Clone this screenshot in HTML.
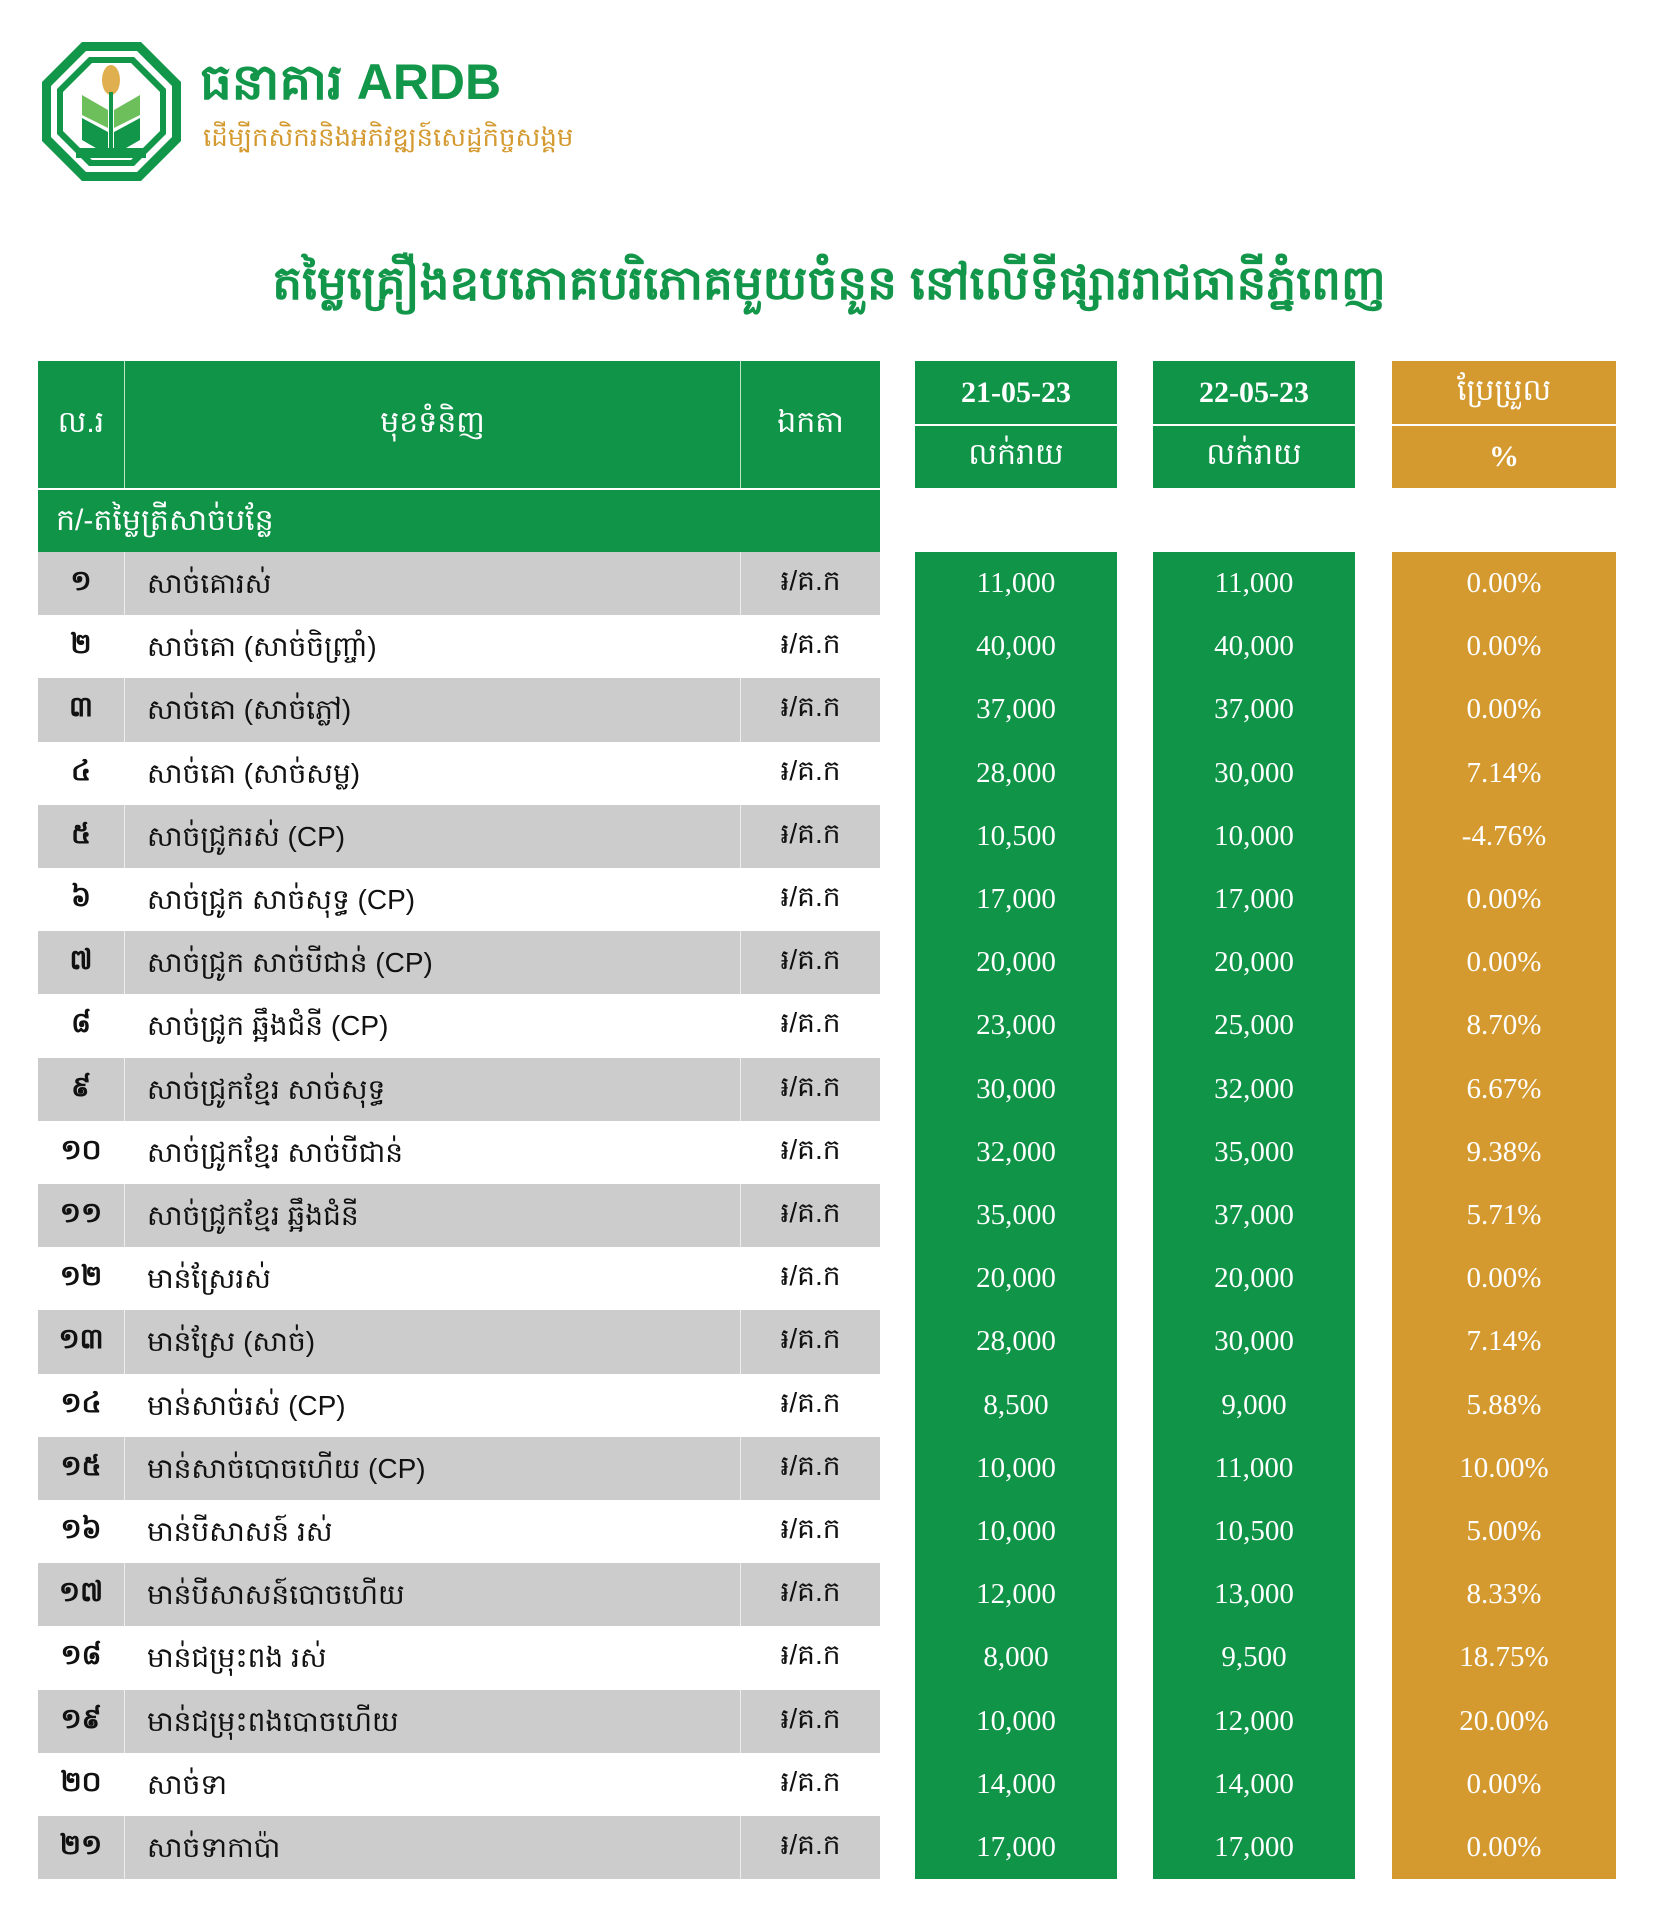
<!DOCTYPE html>
<html><head><meta charset="utf-8">
<style>
*{margin:0;padding:0;box-sizing:border-box}
body{width:1654px;height:1931px;background:#fff;position:relative;overflow:hidden;font-family:"Liberation Serif",serif}
.a{position:absolute}
.g{background:#0f9448}
.o{background:#d49a30}
.c{display:flex;align-items:center;justify-content:center}
.w{color:#fff}
.k{font-family:"Liberation Sans","Noto Sans CJK SC",sans-serif}
.v{font-size:29px;color:#fff}
</style></head><body>
<svg class="a" style="left:40px;top:40px" width="143" height="143" viewBox="0 0 143 143">
<polygon points="42,2 101,2 141,42 141,101 101,141 42,141 2,101 2,42" fill="#12964a"/>
<polygon points="46,11 97,11 132,46 132,97 97,132 46,132 11,97 11,46" fill="#fff"/>
<polygon points="49,17 94,17 126,49 126,94 94,126 49,126 17,94 17,49" fill="#12964a"/>
<polygon points="52,23 91,23 120,52 120,91 91,120 52,120 23,91 23,52" fill="#fff"/>
<ellipse cx="71" cy="40" rx="9" ry="15" fill="#e0b050"/>
<rect x="69" y="52" width="4" height="56" fill="#12964a"/>
<polygon points="42,55 68,70 68,88 42,75" fill="#6cbf5a"/>
<polygon points="100,55 74,70 74,88 100,75" fill="#6cbf5a"/>
<polygon points="42,78 68,92 68,115 42,100" fill="#12964a"/>
<polygon points="100,78 74,92 74,115 100,100" fill="#12964a"/>
<rect x="36" y="108" width="70" height="10" fill="#12964a"/>
</svg>
<div class="a k" style="left:200px;top:52px;font-size:50px;font-weight:bold;color:#12964a;line-height:60px">ធនាគារ ARDB</div>
<div class="a k" style="left:203px;top:118px;font-size:26px;color:#d49a30;line-height:38px">ដើម្បីកសិករនិងអភិវឌ្ឍន៍សេដ្ឋកិច្ចសង្គម</div>
<div class="a k" style="left:268px;top:250px;width:1122px;text-align:center;font-size:47px;font-weight:bold;color:#12964a;line-height:65px">តម្លៃគ្រឿងឧបភោគបរិភោគមួយចំនួន នៅលើទីផ្សាររាជធានីភ្នំពេញ</div>

<div class="a g" style="left:38px;top:361px;width:842px;height:127px"></div>
<div class="a" style="left:124px;top:361px;width:1px;height:127px;background:#bfe3c9"></div>
<div class="a" style="left:740px;top:361px;width:1px;height:127px;background:#bfe3c9"></div>
<div class="a c w k" style="left:38px;top:361px;width:86px;height:127px;font-size:30px">ល.រ</div>
<div class="a c w k" style="left:125px;top:361px;width:615px;height:127px;font-size:30px">មុខទំនិញ</div>
<div class="a c w k" style="left:741px;top:361px;width:139px;height:127px;font-size:30px">ឯកតា</div>
<div class="a g c w" style="left:915px;top:361px;width:202px;height:63px;font-size:30px;font-weight:bold">21-05-23</div>
<div class="a g c w k" style="left:915px;top:426px;width:202px;height:62px;font-size:30px">លក់រាយ</div>
<div class="a g c w" style="left:1153px;top:361px;width:202px;height:63px;font-size:30px;font-weight:bold">22-05-23</div>
<div class="a g c w k" style="left:1153px;top:426px;width:202px;height:62px;font-size:30px">លក់រាយ</div>
<div class="a o c w k" style="left:1392px;top:361px;width:224px;height:63px;font-size:30px">ប្រែប្រួល</div>
<div class="a o c w" style="left:1392px;top:426px;width:224px;height:62px;font-size:30px;font-weight:bold">%</div>
<div class="a g w k" style="left:38px;top:490px;width:842px;height:62px;font-size:30px;line-height:62px;padding-left:18px">ក/-តម្លៃត្រីសាច់បន្លែ</div>
<div class="a g" style="left:915px;top:552px;width:202px;height:1327px"></div>
<div class="a g" style="left:1153px;top:552px;width:202px;height:1327px"></div>
<div class="a o" style="left:1392px;top:552px;width:224px;height:1327px"></div>
<div id="rows"></div>
<script>
var d=[["១","សាច់គោរស់","11,000","11,000","0.00%"],["២","សាច់គោ (សាច់ចិញ្ច្រាំ)","40,000","40,000","0.00%"],["៣","សាច់គោ (សាច់ភ្លៅ)","37,000","37,000","0.00%"],["៤","សាច់គោ (សាច់សម្ល)","28,000","30,000","7.14%"],["៥","សាច់ជ្រូករស់ (CP)","10,500","10,000","-4.76%"],["៦","សាច់ជ្រូក សាច់សុទ្ធ (CP)","17,000","17,000","0.00%"],["៧","សាច់ជ្រូក សាច់បីជាន់ (CP)","20,000","20,000","0.00%"],["៨","សាច់ជ្រូក ឆ្អឹងជំនី (CP)","23,000","25,000","8.70%"],["៩","សាច់ជ្រូកខ្មែរ សាច់សុទ្ធ","30,000","32,000","6.67%"],["១០","សាច់ជ្រូកខ្មែរ សាច់បីជាន់","32,000","35,000","9.38%"],["១១","សាច់ជ្រូកខ្មែរ ឆ្អឹងជំនី","35,000","37,000","5.71%"],["១២","មាន់ស្រែរស់","20,000","20,000","0.00%"],["១៣","មាន់ស្រែ (សាច់)","28,000","30,000","7.14%"],["១៤","មាន់សាច់រស់ (CP)","8,500","9,000","5.88%"],["១៥","មាន់សាច់បោចហើយ (CP)","10,000","11,000","10.00%"],["១៦","មាន់បីសាសន៍ រស់","10,000","10,500","5.00%"],["១៧","មាន់បីសាសន៍បោចហើយ","12,000","13,000","8.33%"],["១៨","មាន់ជម្រុះពង រស់","8,000","9,500","18.75%"],["១៩","មាន់ជម្រុះពងបោចហើយ","10,000","12,000","20.00%"],["២០","សាច់ទា","14,000","14,000","0.00%"],["២១","សាច់ទាកាប៉ា","17,000","17,000","0.00%"]];
var h="";
for(var i=0;i<d.length;i++){var t=552+i*63.2,H=63.2,r=d[i];
if(i%2==0)h+='<div class="a" style="left:38px;top:'+t+'px;width:842px;height:'+H+'px;background:#cccccc"></div><div class="a" style="left:124px;top:'+t+'px;width:1px;height:'+H+'px;background:#eee"></div><div class="a" style="left:740px;top:'+t+'px;width:1px;height:'+H+'px;background:#eee"></div>';
h+='<div class="a c k" style="left:38px;top:'+t+'px;width:86px;height:'+H+'px;font-size:28px;font-weight:bold;color:#111">'+r[0]+'</div>';
h+='<div class="a k" style="left:147px;top:'+t+'px;height:'+H+'px;line-height:'+H+'px;font-size:28px;color:#111">'+r[1]+'</div>';
h+='<div class="a c k" style="left:741px;top:'+t+'px;width:139px;height:'+H+'px;font-size:28px;color:#111">៛/គ.ក</div>';
h+='<div class="a c v" style="left:915px;top:'+t+'px;width:202px;height:'+H+'px">'+r[2]+'</div>';
h+='<div class="a c v" style="left:1153px;top:'+t+'px;width:202px;height:'+H+'px">'+r[3]+'</div>';
h+='<div class="a c v" style="left:1392px;top:'+t+'px;width:224px;height:'+H+'px">'+r[4]+'</div>';}
document.getElementById("rows").innerHTML=h;
</script>
</body></html>
